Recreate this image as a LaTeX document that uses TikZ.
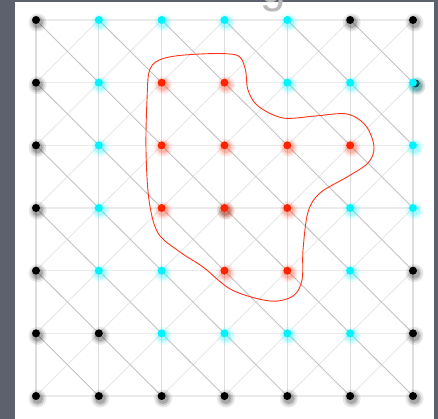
\documentclass[tikz,border=0pt]{standalone}
\usepackage{fontspec}
\setmainfont{Liberation Sans}
\definecolor{bgc}{HTML}{5C616D}
\definecolor{cyn}{HTML}{00F4FF}
\definecolor{rd}{HTML}{FF2400}
\definecolor{curvec}{HTML}{FF3318}
\definecolor{hgridc}{HTML}{EBEBEB}
\definecolor{vgridc}{HTML}{DEDEDE}
\definecolor{diagA}{HTML}{C4C4C4}
\definecolor{diagB}{HTML}{E8E8E8}
\tikzset{
 dotbase/.style={circle, inner sep=0pt, minimum size=8pt},
 dotk/.style={dotbase, fill=black},
 dotc/.style={dotbase, fill=cyn},
 dotr/.style={dotbase, fill=rd},
 glowk/.style={fill=black},
 glowc/.style={fill=cyn},
 glowr/.style={fill=rd},
 hline/.style={draw=hgridc, line width=1.4pt},
 vline/.style={draw=vgridc, line width=1.3pt},
 diagdark/.style={draw=diagA, line width=0.9pt},
 diaglight/.style={draw=diagB, line width=0.9pt},
 blob/.style={draw=curvec, line width=0.9pt},
}
\begin{document}
\begin{tikzpicture}[x=1pt,y=-1pt]
\useasboundingbox (0,0) rectangle (438,419);
\fill[bgc] (0,0) rectangle (438,419);
\fill[white] (15,2.5) rectangle (434,419);
\node[text=gray!55, font=\fontsize{46}{46}\selectfont, anchor=base, inner sep=0pt] (ttl) at (273,2.5) {g};
% grid coordinates
\foreach \r in {0,...,6} {
  \foreach \c in {0,...,6} {
    \pgfmathsetmacro\x{36+62.83*\c}
    \pgfmathsetmacro\y{20+62.67*\r}
    \coordinate (g\r\c) at (\x,\y);
  }
}
% grid lines
\foreach \i in {0,...,6} {
  \draw[hline] (g\i0) -- (g\i6);
  \draw[vline] (g0\i) -- (g6\i);
}
\foreach \r [evaluate=\r as \rn using int(\r+1)] in {0,...,5} {
  \foreach \c [evaluate=\c as \cn using int(\c+1)] in {0,...,5} {
    \draw[diaglight] (g\rn\c) -- (g\r\cn);
    \draw[diagdark] (g\r\c) -- (g\rn\cn);
  }
}
% red closed curve
\draw[blob] plot[smooth cycle, tension=0.55] coordinates {
 (147,100) (150,69) (165,58) (200,54) (236,55) (245,68) (248,90) (258,106)
 (283,118) (315,116) (347,114) (366,126) (374,147) (368,163) (347,177)
 (320,193) (308,212) (303,250) (302,280) (293,296) (270,301) (232,290)
 (203,267) (180,252) (158,233) (149,200) (146,150)};
% hidden black dot and dark shadow behind coloured ones
\foreach \rad/\op in {8.5/0.12,6.5/0.15,5/0.2} {
  \fill[black, opacity=\op] (417,86) circle (\rad);
  \fill[black, opacity=0.7*\op] (225.5,211) circle (\rad);
}
\node[dotk] (hk1) at (415.5,83.5) {};
% dots
\foreach \row [count=\r from 0] in {{k,c,c,c,c,k,k},{k,c,r,r,c,c,c},{k,c,r,r,r,r,c},{k,c,r,r,r,c,c},{k,c,c,r,r,c,k},{k,k,c,c,c,c,k},{k,k,k,k,k,k,k}} {
  \foreach \t [count=\c from 0] in \row {
    \pgfmathsetmacro\x{36+62.83*\c}
    \pgfmathsetmacro\y{20+62.67*\r}
    \foreach \rad/\op in {9/0.09,7/0.12,5.5/0.17} {
      \fill[glow\t, opacity=\op] (\x+1.5,\y+2.5) circle (\rad);
    }
    \node[dot\t] (p\r\c) at (g\r\c) {};
  }
}
\end{tikzpicture}
\end{document}
